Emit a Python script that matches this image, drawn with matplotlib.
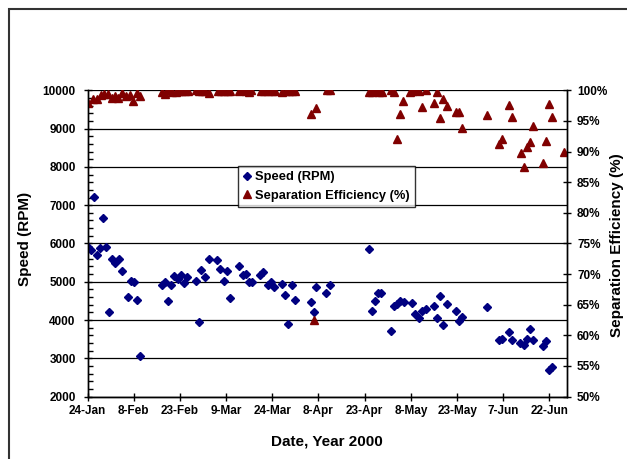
import datetime
import numpy as np
import matplotlib
matplotlib.use('Agg')
import matplotlib.pyplot as plt
import matplotlib.dates as mdates
from matplotlib.patches import Rectangle

plt.rcParams['font.family'] = ['Liberation Sans', 'DejaVu Sans']
plt.rcParams['font.weight'] = 'bold'

# ---- data (days after 24-Jan-2000) ----
speed_days = [0.1, 1.1, 2.1, 3.1, 4.1, 5.1, 6.0, 7.0, 8.1, 8.9, 10.1, 11.2, 13.0, 14.1, 15.2,
              16.1, 17.0, 24.3, 25.2, 26.0, 27.0, 28.0, 29.3, 30.4, 31.2, 32.3, 35.1, 36.1,
              36.9, 38.0, 39.4, 42.1, 43.1, 44.2, 45.2, 46.2, 49.3, 50.4, 51.5, 52.5, 53.3,
              56.0, 57.1, 58.5, 59.5, 60.5, 63.3, 64.2, 65.2, 66.3, 67.3, 72.5, 73.4, 74.3,
              77.5, 78.6, 91.5, 92.5, 93.4, 94.4, 95.4, 98.5, 99.5, 100.5, 101.5, 102.7,
              105.5, 106.3, 107.6, 108.7, 109.8, 112.5, 113.6, 114.4, 115.5, 116.8, 119.6,
              120.6, 121.7, 129.8, 133.6, 134.7, 136.9, 137.9, 140.5, 141.6, 142.6, 143.7,
              144.6, 147.8, 148.9, 149.8, 150.7]
speed_rpm = [5920, 5834, 7224, 5703, 5878, 6676, 5912, 4208, 5599, 5487, 5599, 5278, 4600, 5017,
             5000, 4511, 3050, 4902, 4991, 4485, 4902, 5137, 5077, 5173, 4955, 5111, 5025, 3947,
             5294, 5111, 5591, 5555, 5320, 5025, 5268, 4573, 5424, 5163, 5200, 5000, 4991,
             5163, 5252, 4902, 5006, 4860, 4939, 4642, 3895, 4902, 4521, 4469, 4208, 4850,
             4712, 4902, 5842, 4224, 4485, 4694, 4694, 3703, 4365, 4425, 4485, 4469,
             4443, 4156, 4052, 4224, 4294, 4354, 4052, 4615, 3859, 4407, 4224,
             3963, 4067, 4328, 3467, 3511, 3686, 3467, 3399, 3337, 3493, 3754,
             3467, 3311, 3441, 2703, 2773]

eff_days = [0.1, 1.9, 3.0, 4.4, 5.5, 6.6, 7.9, 8.9, 10.0, 11.1, 12.4, 13.8, 14.9, 16.0, 17.0,
            24.1, 25.2, 26.2, 27.5, 28.6, 29.6, 30.5, 31.6, 32.7, 35.1, 36.2, 37.3, 38.3, 39.4,
            42.3, 43.4, 44.4, 45.5, 46.4, 49.3, 50.4, 51.5, 52.3, 53.2, 56.3, 57.4, 58.5,
            59.8, 60.9, 63.2, 64.3, 65.4, 66.4, 67.3, 72.5, 73.4, 74.3, 77.7, 78.6, 91.4,
            92.5, 93.5, 94.5, 95.5, 98.5, 99.6, 100.6, 101.6, 102.6, 104.6, 105.3, 106.3,
            107.6, 108.7, 109.8, 112.6, 113.6, 114.4, 115.5, 116.8, 119.5, 120.6, 121.7,
            129.8, 133.7, 134.7, 136.9, 137.9, 140.7, 141.7, 142.7, 143.7, 144.6, 147.9,
            148.9, 149.8, 150.8, 154.8]
eff_pct = [97.9, 98.5, 98.5, 99.3, 99.4, 99.4, 98.7, 99.0, 98.7, 99.5, 99.1, 99.2, 98.3, 99.5,
           99.0, 99.7, 99.4, 100.0, 99.7, 99.8, 99.9, 99.9, 99.9, 99.9, 100.0, 99.9, 99.9,
           99.9, 99.6, 99.9, 99.9, 99.9, 99.9, 99.9, 99.9, 100.0, 99.9, 99.8, 100.0, 99.9,
           99.9, 99.9, 99.9, 99.9, 99.7, 99.9, 99.9, 99.9, 99.9, 96.2, 62.5, 97.1, 100.0,
           100.0, 99.7, 99.8, 100.0, 99.8, 99.7, 100.0, 99.8, 92.1, 96.2, 98.2, 99.8, 99.9,
           100.0, 99.9, 97.3, 100.0, 98.0, 99.8, 95.4, 98.5, 97.4, 96.5, 96.5, 93.9,
           95.9, 91.3, 92.0, 97.6, 95.6, 89.7, 87.4, 90.8, 91.5, 94.1, 88.1,
           91.7, 97.8, 95.7, 89.9]

tick_labels = ['24-Jan', '8-Feb', '23-Feb', '9-Mar', '24-Mar', '8-Apr', '23-Apr',
               '8-May', '23-May', '7-Jun', '22-Jun']

start = mdates.date2num(datetime.datetime(2000, 1, 24))
xs = start + np.array(speed_days)
xe = start + np.array(eff_days)

fig = plt.figure(figsize=(6.27, 4.59), dpi=100)
fig.patch.set_facecolor('white')

ax = fig.add_axes([87.5 / 627, 62.4 / 459, 479.2 / 627, 306.3 / 459])
ax2 = ax.twinx()

ax.plot(xs, speed_rpm, linestyle='none', marker='D', ms=4.2, color='#000080',
        mec='#000080', label='Speed (RPM)')
ax2.plot(xe, eff_pct, linestyle='none', marker='^', ms=5.5, color='#800000',
         mec='#800000', label='Separation Efficiency (%)')

ax.set_xlim(start, start + 155.6)
ax.set_ylim(2000, 10000)
ax2.set_ylim(50, 100)

ax.set_xticks(start + 15 * np.arange(len(tick_labels)))
ax.set_xticklabels(tick_labels)
ax.set_yticks(np.arange(2000, 10001, 1000))
ax.set_yticks(np.arange(2000, 10001, 200), minor=True)
ax2.set_yticks(np.arange(50, 101, 5))
ax2.set_yticklabels([f'{v}%' for v in range(50, 101, 5)])

ax.grid(True, axis='y', color='black', linewidth=0.9)
ax.set_axisbelow(True)

for a in (ax, ax2):
    a.spines['top'].set_visible(False)
    for s in a.spines.values():
        s.set_linewidth(1.0)
ax.tick_params(axis='x', which='major', direction='inout', length=6, width=1,
               labelsize=8.5, pad=3)
ax.tick_params(axis='y', which='major', direction='inout', length=6, width=1,
               labelsize=8.5, pad=5.5)
ax.tick_params(axis='y', which='minor', direction='in', length=3.5, width=1)
ax2.tick_params(axis='y', which='major', direction='inout', length=6, width=1,
                labelsize=8.5, pad=4.5)

fig.text(25 / 627, 1 - 239 / 459, 'Speed (RPM)', rotation=90, ha='center', va='center',
         fontsize=11, fontweight='bold')
fig.text(617 / 627, 1 - 245 / 459, 'Separation Efficiency (%)', rotation=90, ha='center',
         va='center', fontsize=11, fontweight='bold')
fig.text(327 / 627, 1 - 441 / 459, 'Date, Year 2000', ha='center', va='center',
         fontsize=11, fontweight='bold')

h1, l1 = ax.get_legend_handles_labels()
h2, l2 = ax2.get_legend_handles_labels()
leg = fig.legend(h1 + h2, l1 + l2, loc='upper left',
                 bbox_to_anchor=(238 / 627, 1 - 166 / 459), fontsize=9.3,
                 frameon=True, fancybox=False, handlelength=0.6, handletextpad=0.3,
                 borderpad=0.4, labelspacing=0.5, borderaxespad=0)
leg.get_frame().set_edgecolor('black')
leg.get_frame().set_linewidth(1.0)
leg.set_zorder(10)

# outer chart-area border (runs off the right and bottom edges)
fig.patches.append(Rectangle((8.5 / 627, -0.1), 1.2, 1.1 - 9 / 459, transform=fig.transFigure,
                             fill=False, edgecolor='#333333', linewidth=1.5))

fig.savefig('out.png', dpi=100)
